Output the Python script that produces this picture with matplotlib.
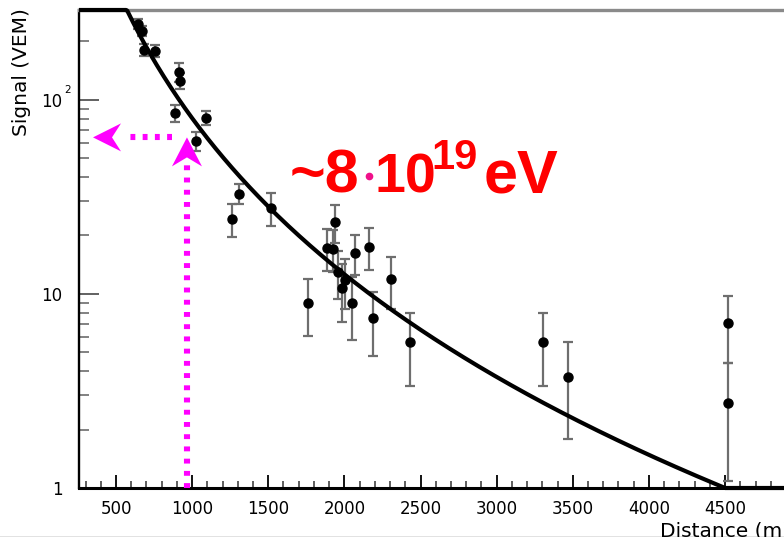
import numpy as np
import matplotlib.pyplot as plt
import matplotlib.transforms as mtransforms
from matplotlib.patches import Polygon
from matplotlib.lines import Line2D
from matplotlib.ticker import FixedLocator, NullFormatter

# Station signals of one event: distance to shower axis (m), signal (VEM), error (VEM)
distance = [644, 671, 684, 756, 914, 920, 887, 1091, 1025, 1308,
            1262, 1518, 1938, 1886, 1925, 2069, 2161, 1958, 2004, 1984,
            2050, 1761, 2306, 2188, 2431, 3304, 3468, 4519, 4519]
signal = [246, 227, 181, 179, 139, 125, 85.7, 80.8, 61.5, 32.8,
          24.4, 27.8, 23.5, 17.3, 17.1, 16.3, 17.5, 13.0, 11.8, 10.7,
          9.0, 9.0, 11.9, 7.5, 5.66, 5.66, 3.73, 7.09, 2.74]
signal_err = [14, 14, 12, 12, 16, 12, 8.5, 7, 7, 3.9,
              4.7, 5.4, 5.3, 4.2, 4.2, 3.8, 4.3, 3.6, 3.4, 3.5,
              3.2, 2.9, 3.5, 2.7, 2.3, 2.3, 1.95, 2.7, 1.65]

# Lateral distribution fit: log10 S = log10 S1000 + b*L + c*L^2, L = log10(r/1000)
s1000 = 80.4
ldf_slope = -2.463
ldf_curv = -0.6945

# Hand-drawn reading of S(1000)
r_mark = 966
s_mark = 64

xmin, xmax = 257, 4887
ymin, ymax = 1, 290


def ldf(r):
    L = np.log10(r / 1000.0)
    return s1000 * 10 ** (ldf_slope * L + ldf_curv * L ** 2)


fig = plt.figure(figsize=(7.84, 5.37), dpi=100)
ax = fig.add_axes([79 / 784, 49 / 537, 705 / 784, 478 / 537])
ax.set_yscale('log')
ax.set_xlim(xmin, xmax)
ax.set_ylim(ymin, ymax)

ax.errorbar(distance, signal, yerr=signal_err, fmt='o', color='black',
            markersize=6.5, ecolor='#6e6e6e', elinewidth=1.6,
            capsize=3.3, capthick=1.6, zorder=2)

# fit curve, clipped onto the frame like ROOT does
r = np.linspace(xmin, xmax, 600)
ax.plot(r, np.clip(ldf(r), ymin, ymax), color='black', lw=3.0,
        solid_capstyle='butt', clip_on=False, zorder=4)

# frame
ax.spines['right'].set_visible(False)
ax.spines['top'].set_color('#8a8a8a')
ax.spines['top'].set_linewidth(2.4)
ax.spines['left'].set_linewidth(1.7)
ax.spines['bottom'].set_linewidth(2.2)

# ticks
ax.xaxis.set_major_locator(FixedLocator(np.arange(500, 5000, 500)))
ax.xaxis.set_minor_locator(FixedLocator(np.arange(300, 4900, 100)))
ax.set_xticklabels([str(v) for v in np.arange(500, 5000, 500)])
ax.tick_params(axis='x', which='major', direction='in', length=9.5, width=1.3,
               pad=9, labelsize=12, top=False)
ax.tick_params(axis='x', which='minor', direction='in', length=4.7, width=1.1,
               color='#333333', top=False)

ax.yaxis.set_major_locator(FixedLocator([1, 10, 100]))
ax.set_yticklabels(['1', '10', '10'])
minor_y = [m * d for d in (1, 10, 100) for m in range(2, 10)]
ax.yaxis.set_minor_locator(FixedLocator(minor_y))
ax.yaxis.set_minor_formatter(NullFormatter())
ax.tick_params(axis='y', which='major', direction='in', length=14.5, width=1.3,
               pad=12, labelsize=12, right=False, color='#555555')
ax.tick_params(axis='y', which='minor', direction='in', length=7, width=1.3,
               color='#777777', right=False)
# exponent of the 10^2 label
ax.text(-0.0165, 106, '2', fontsize=7.5, transform=ax.get_yaxis_transform(),
        ha='center', va='bottom')

fig.text(22 / 784, 1 - 8 / 537, 'Signal (VEM)', rotation=90, fontsize=14.5,
         ha='center', va='top')
fig.text(660 / 784, 1 - 531 / 537, 'Distance (m)', fontsize=14.5,
         ha='left', va='center')

# magenta arrows marking S(1000)
pink = '#ff00ff'
dots = dict(color=pink, lw=4.4, linestyle=(0, (0.8, 1.2)),
            dash_capstyle='butt', clip_on=False, zorder=5)
ax.plot([r_mark, r_mark], [ymin, 46.5], **dots)
ax.plot([868, 553], [s_mark, s_mark], **dots)


def head(x, y, verts):
    tr = fig.dpi_scale_trans + mtransforms.ScaledTranslation(x, y, ax.transData)
    p = Polygon(np.array(verts) / 100.0, closed=True, facecolor=pink,
                edgecolor='none', transform=tr, clip_on=False, zorder=6)
    ax.add_patch(p)


head(r_mark, s_mark, [(0, 0), (15, -29), (0, -20), (-15, -29)])
head(349, s_mark, [(0, 0), (28, 14), (19, 0), (28, -14)])

# energy estimate
red = '#ff0000'
font = dict(fontweight='bold', color=red, family='Liberation Sans',
            va='baseline', ha='left')
base = 1 - 192 / 537
fig.text(290 / 784, base, '~8', fontsize=44, **font)
fig.text(375 / 784, base, '10', fontsize=40, **font)
fig.text(431 / 784, 1 - 169 / 537, '19', fontsize=30, **font)
fig.text(484 / 784, base, 'eV', fontsize=44, **font)
fig.add_artist(Line2D([369 / 784], [1 - 176 / 537], marker='o', markersize=4.5,
                      color='#f0108a', transform=fig.transFigure))

fig.add_artist(Line2D([0, 1], [0.5 / 537, 0.5 / 537], color='#dddddd', lw=1.2,
                      transform=fig.transFigure))

fig.savefig('out.png', dpi=100)
